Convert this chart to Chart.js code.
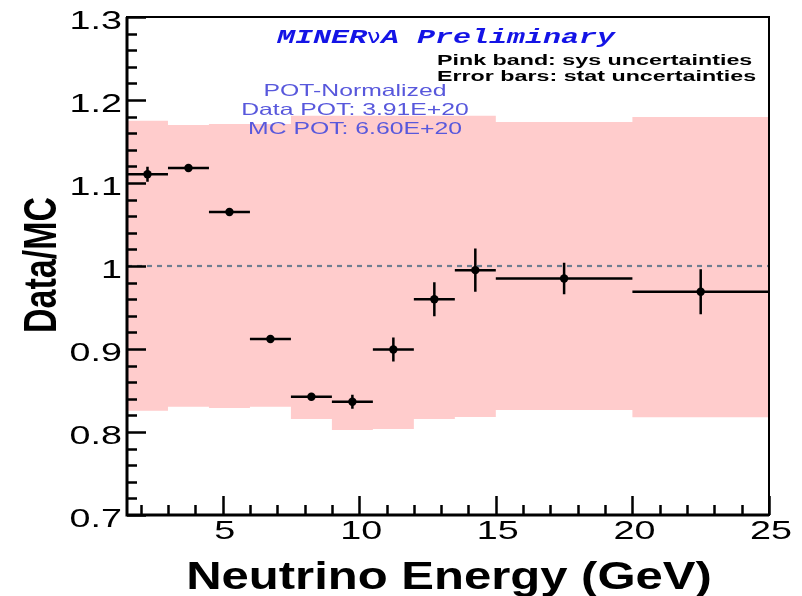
<!DOCTYPE html>
<html>
<head>
<meta charset="utf-8">
<script src="https://cdn.jsdelivr.net/npm/chart.js@4.4.1/dist/chart.umd.min.js"></script>
<style>
  html, body { margin: 0; padding: 0; background: #fff; }
  #wrap { width: 802px; height: 596px; }
</style>
</head>
<body>
<div id="wrap"><canvas id="c" width="802" height="596"></canvas></div>
<script>
// Neutrino energy bins (GeV) and bin centres
const binEdges   = [1.5, 3, 4.5, 6, 7.5, 9, 10.5, 12, 13.5, 15, 20, 25];
const binCenters = [2.25, 3.75, 5.25, 6.75, 8.25, 9.75, 11.25, 12.75, 14.25, 17.5, 22.5];

// Data/MC ratio with statistical errors
const ratio   = [1.1105, 1.118, 1.065, 0.912, 0.8425, 0.8365, 0.8995, 0.960, 0.995, 0.985, 0.969];
const statErr = [0.009, 0.003, 0.003, 0.003, 0.003, 0.0085, 0.0145, 0.0205, 0.026, 0.019, 0.027];

// Systematic band (upper / lower edge per bin)
const sysHigh = [1.175, 1.170, 1.171, 1.171, 1.181, 1.181, 1.181, 1.181, 1.181, 1.1735, 1.1795];
const sysLow  = [0.8257, 0.8305, 0.829, 0.8305, 0.8157, 0.8024, 0.8036, 0.8157, 0.818, 0.8265, 0.8177];

// Axis ticks
const xTickValues = [5, 10, 15, 20, 25];
const xTickLabels = ['5', '10', '15', '20', '25'];
const yTickValues = [0.7, 0.8, 0.9, 1.0, 1.1, 1.2, 1.3];
const yTickLabels = ['0.7', '0.8', '0.9', '1', '1.1', '1.2', '1.3'];

const X_MIN = 1.5, X_MAX = 25, Y_MIN = 0.7, Y_MAX = 1.3;

const points = binCenters.map((x, i) => ({ x: x, y: ratio[i] }));

function drawText(ctx, text, x, y, opts) {
  ctx.save();
  ctx.translate(x, y);
  if (opts.angle) ctx.rotate(opts.angle);
  ctx.scale(opts.sx || 1, opts.sy || 1);
  ctx.font = opts.font;
  ctx.fillStyle = opts.color || '#000';
  ctx.textAlign = opts.align || 'left';
  ctx.textBaseline = 'alphabetic';
  ctx.fillText(text, 0, 0);
  ctx.restore();
}

// Systematic uncertainty band as a stepped polygon
const sysBand = {
  id: 'sysBand',
  beforeDatasetsDraw(chart) {
    const { ctx, scales: { x, y } } = chart;
    ctx.save();
    ctx.fillStyle = 'rgb(255,204,204)';
    ctx.beginPath();
    sysHigh.forEach((v, i) => {
      const py = y.getPixelForValue(v);
      if (i === 0) ctx.moveTo(x.getPixelForValue(binEdges[i]), py);
      else ctx.lineTo(x.getPixelForValue(binEdges[i]), py);
      ctx.lineTo(x.getPixelForValue(binEdges[i + 1]), py);
    });
    for (let i = sysLow.length - 1; i >= 0; i--) {
      const py = y.getPixelForValue(sysLow[i]);
      ctx.lineTo(x.getPixelForValue(binEdges[i + 1]), py);
      ctx.lineTo(x.getPixelForValue(binEdges[i]), py);
    }
    ctx.closePath();
    ctx.fill();
    ctx.restore();
  }
};

// Horizontal (bin width) and vertical (stat) error bars
const errorBars = {
  id: 'errorBars',
  afterDatasetsDraw(chart) {
    const { ctx, scales: { x, y } } = chart;
    ctx.save();
    ctx.strokeStyle = '#000';
    ctx.lineWidth = 2.5;
    ctx.lineCap = 'butt';
    binCenters.forEach((c, i) => {
      const py = y.getPixelForValue(ratio[i]);
      ctx.beginPath();
      ctx.moveTo(x.getPixelForValue(binEdges[i]), py);
      ctx.lineTo(x.getPixelForValue(binEdges[i + 1]), py);
      const px = x.getPixelForValue(c);
      ctx.moveTo(px, y.getPixelForValue(ratio[i] + statErr[i]));
      ctx.lineTo(px, y.getPixelForValue(ratio[i] - statErr[i]));
      ctx.stroke();
    });
    ctx.restore();
  }
};

// Frame, inward ticks, tick labels, titles and captions
const frameAndText = {
  id: 'frameAndText',
  afterDraw(chart) {
    const { ctx, chartArea: a, scales: { x, y } } = chart;
    ctx.save();
    ctx.strokeStyle = '#000';
    ctx.lineWidth = 2;
    ctx.strokeRect(a.left, a.top, a.right - a.left, a.bottom - a.top);
    ctx.lineWidth = 3;
    ctx.beginPath();
    ctx.moveTo(a.left, a.top);
    ctx.lineTo(a.left, a.bottom);
    ctx.lineTo(a.right, a.bottom);
    ctx.stroke();

    ctx.lineWidth = 2.5;
    ctx.beginPath();
    for (let k = 0; k <= 30; k++) {
      const v = Y_MIN + k * 0.02;
      const py = Math.round(y.getPixelForValue(v)) + 0.5;
      const len = (k % 5 === 0) ? 19 : 10;
      ctx.moveTo(a.left, py);
      ctx.lineTo(a.left + len, py);
    }
    for (let v = 2; v <= 25; v++) {
      const px = Math.round(x.getPixelForValue(v)) + 0.5;
      const len = (v % 5 === 0) ? 19 : 10;
      ctx.moveTo(px, a.bottom);
      ctx.lineTo(px, a.bottom - len);
    }
    ctx.stroke();
    ctx.restore();

    const tickFont = '26px "Liberation Sans", Arial, sans-serif';
    yTickValues.forEach((v, i) => {
      drawText(ctx, yTickLabels[i], 122, y.getPixelForValue(v) + 11.5,
        { font: tickFont, sx: 1.45, align: 'right' });
    });
    xTickValues.forEach((v, i) => {
      drawText(ctx, xTickLabels[i], x.getPixelForValue(v) + 2, 539,
        { font: tickFont, sx: 1.45, align: 'center' });
    });

    drawText(ctx, 'Neutrino Energy (GeV)', 449, 589,
      { font: 'bold 38px "Liberation Sans", Arial, sans-serif', sx: 1.29, align: 'center' });
    drawText(ctx, 'Data/MC', 56, 265,
      { font: 'bold 34px "Liberation Sans", Arial, sans-serif', sy: 1.38, align: 'center', angle: -Math.PI / 2 });

    const blue = 'rgb(20,20,230)';
    const monoFont = 'italic bold 20px "Liberation Mono", "DejaVu Sans Mono", monospace';
    drawText(ctx, 'MINER', 367, 43, { font: monoFont, sx: 1.5, align: 'right', color: blue });
    drawText(ctx, 'ν', 367, 43, { font: '20px "DejaVu Sans", sans-serif', sx: 1.2, align: 'left', color: blue });
    drawText(ctx, 'A Preliminary', 381, 43, { font: monoFont, sx: 1.5, align: 'left', color: blue });

    drawText(ctx, 'Pink band: sys uncertainties', 437, 65,
      { font: 'bold 15.5px "Liberation Sans", Arial, sans-serif', sx: 1.5, align: 'left' });
    drawText(ctx, 'Error bars: stat uncertainties', 437, 81,
      { font: 'bold 15.5px "Liberation Sans", Arial, sans-serif', sx: 1.5, align: 'left' });

    const potFont = '16.5px "Liberation Sans", Arial, sans-serif';
    const potColor = 'rgb(88,88,220)';
    drawText(ctx, 'POT-Normalized', 355, 96, { font: potFont, sx: 1.5, align: 'center', color: potColor });
    drawText(ctx, 'Data POT: 3.91E+20', 355, 115, { font: potFont, sx: 1.5, align: 'center', color: potColor });
    drawText(ctx, 'MC POT: 6.60E+20', 355, 134, { font: potFont, sx: 1.5, align: 'center', color: potColor });
  }
};

const whiteBg = {
  id: 'whiteBg',
  beforeDraw(chart) {
    const { ctx, width, height } = chart;
    ctx.save();
    ctx.fillStyle = '#fff';
    ctx.fillRect(0, 0, width, height);
    ctx.restore();
  }
};

new Chart(document.getElementById('c'), {
  type: 'scatter',
  data: {
    datasets: [
      {
        label: 'Data/MC',
        data: points,
        showLine: false,
        pointRadius: 4.2,
        pointBackgroundColor: '#000',
        pointBorderColor: '#000',
        pointBorderWidth: 0,
        order: 0
      },
      {
        label: 'Unity',
        type: 'line',
        data: [{ x: X_MIN, y: 1 }, { x: X_MAX, y: 1 }],
        borderColor: 'rgb(110,126,144)',
        borderWidth: 2.2,
        borderDash: [5, 5],
        pointRadius: 0,
        fill: false,
        order: 1
      }
    ]
  },
  options: {
    responsive: false,
    animation: false,
    devicePixelRatio: 1,
    layout: { padding: { left: 127, right: 33, top: 17, bottom: 81 } },
    plugins: { legend: { display: false }, tooltip: { enabled: false } },
    scales: {
      x: { type: 'linear', min: X_MIN, max: X_MAX, display: false },
      y: { type: 'linear', min: Y_MIN, max: Y_MAX, display: false }
    }
  },
  plugins: [whiteBg, sysBand, errorBars, frameAndText]
});
</script>
</body>
</html>
